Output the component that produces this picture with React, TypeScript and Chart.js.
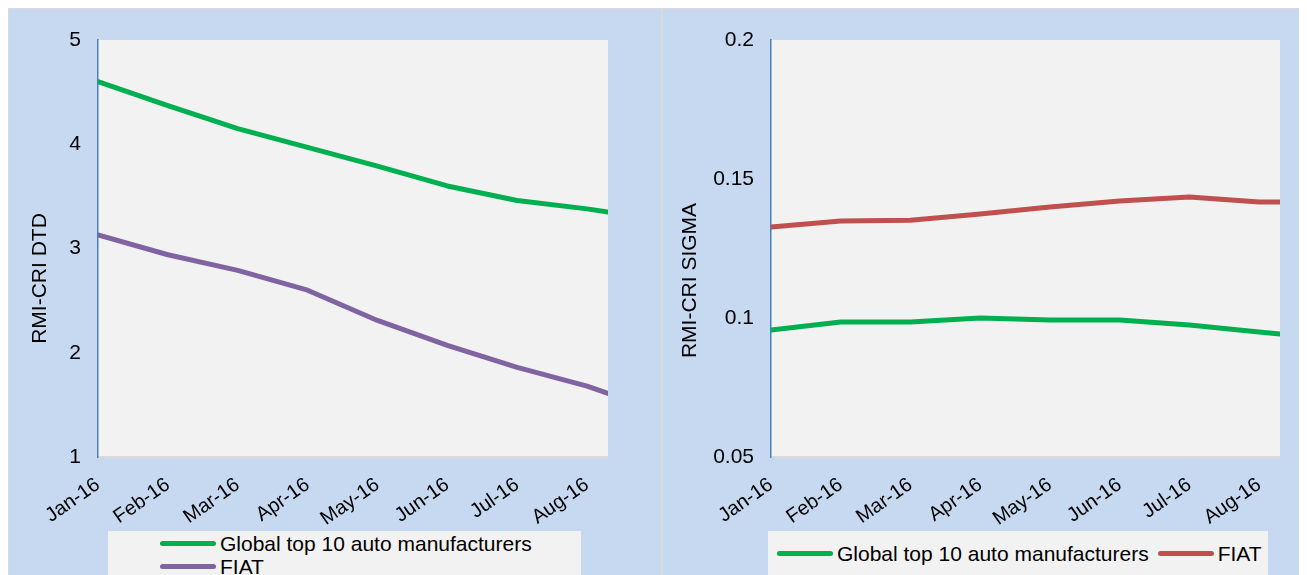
import React, { useEffect, useRef } from "react";
import { Chart, registerables } from "chart.js";

Chart.register(...registerables);

// ---- data ----
const monthLabels = ["Jan-16", "Feb-16", "Mar-16", "Apr-16", "May-16", "Jun-16", "Jul-16", "Aug-16"];
// time position of each observation, in months after Jan-16 (last one is mid-Aug)
const xPositions = [0, 1, 2, 3, 4, 5, 6, 7, 7.3];
const xMax = 7.3;
const seriesNames = ["Global top 10 auto manufacturers", "FIAT"];

const dtdGlobal = [4.6, 4.37, 4.15, 3.97, 3.79, 3.6, 3.46, 3.38, 3.35];
const dtdFiat = [3.13, 2.94, 2.79, 2.6, 2.31, 2.07, 1.86, 1.68, 1.61];
const sigmaGlobal = [0.0957, 0.0986, 0.0986, 0.1, 0.0993, 0.0993, 0.0975, 0.095, 0.0942];
const sigmaFiat = [0.1327, 0.1349, 0.1352, 0.1374, 0.1399, 0.1421, 0.1435, 0.1417, 0.1417];

const dtdTicks = [1, 2, 3, 4, 5];
const sigmaTicks = [0.05, 0.1, 0.15, 0.2];

const GREEN = "#00b050";
const PURPLE = "#8064a2";
const RED = "#c0504d";
const PANEL_BG = "#c6d9f0";
const PLOT_BG = "#f2f2f2";
const FONT = "'Liberation Sans', Arial, sans-serif";

const CANVAS_H = 535;
const AREA_BOTTOM = 448;

type PanelSpec = {
  series: number[][];
  colors: string[];
  yTicks: number[];
  yTitle: string;
  yWidth: number;
  padRight: number;
  titleX: number;
  titleShift: number;
};

const plotBg = {
  id: "plotBg",
  beforeDraw(chart: any) {
    const { ctx, chartArea: a } = chart;
    ctx.save();
    ctx.fillStyle = PLOT_BG;
    ctx.fillRect(a.left, a.top, a.right - a.left, a.bottom - a.top);
    ctx.restore();
  },
};

function makeConfig(spec: PanelSpec): any {
  const yTitlePlugin = {
    id: "yTitle",
    afterDraw(chart: any) {
      const { ctx, chartArea: a } = chart;
      ctx.save();
      ctx.translate(spec.titleX, (a.top + a.bottom) / 2 + spec.titleShift);
      ctx.rotate(-Math.PI / 2);
      ctx.font = `21px ${FONT}`;
      ctx.fillStyle = "#000";
      ctx.textAlign = "center";
      ctx.textBaseline = "middle";
      ctx.fillText(spec.yTitle, 0, 0);
      ctx.restore();
    },
  };
  return {
    type: "line",
    data: {
      datasets: spec.series.map((vals, i) => ({
        label: seriesNames[i],
        data: xPositions.map((x, j) => ({ x, y: vals[j] })),
        borderColor: spec.colors[i],
        backgroundColor: spec.colors[i],
        borderWidth: 5,
        pointRadius: 0,
        tension: 0,
        borderCapStyle: "round",
        borderJoinStyle: "round",
        fill: false,
      })),
    },
    options: {
      animation: false,
      responsive: false,
      devicePixelRatio: 1,
      layout: { padding: { top: 31, right: spec.padRight, bottom: 0, left: 0 } },
      plugins: { legend: { display: false }, tooltip: { enabled: false } },
      scales: {
        x: {
          type: "linear",
          min: 0,
          max: xMax,
          afterBuildTicks: (s: any) => {
            s.ticks = monthLabels.map((_, i) => ({ value: i }));
          },
          afterFit: (s: any) => {
            s.height = CANVAS_H - AREA_BOTTOM;
          },
          grid: { display: false, drawTicks: false },
          border: { display: true, color: "#d9d9d9", width: 2 },
          ticks: {
            autoSkip: false,
            minRotation: 35,
            maxRotation: 35,
            padding: 16,
            color: "#000",
            font: { family: FONT, size: 20 },
            callback: (v: number) => monthLabels[v] ?? "",
          },
        },
        y: {
          type: "linear",
          min: spec.yTicks[0],
          max: spec.yTicks[spec.yTicks.length - 1],
          afterBuildTicks: (s: any) => {
            s.ticks = spec.yTicks.map((v) => ({ value: v }));
          },
          afterFit: (s: any) => {
            s.width = spec.yWidth;
          },
          grid: { display: false, drawTicks: false },
          border: { display: true, color: "#4a7ebb", width: 1.5 },
          ticks: {
            padding: 17,
            color: "#000",
            font: { family: FONT, size: 21 },
            callback: (v: number) => String(v),
          },
        },
      },
    },
    plugins: [plotBg, yTitlePlugin],
  };
}

function ChartCanvas({ spec, width, height, style }: { spec: PanelSpec; width: number; height: number; style: React.CSSProperties }) {
  const ref = useRef<HTMLCanvasElement | null>(null);
  useEffect(() => {
    if (!ref.current) return;
    const chart = new Chart(ref.current, makeConfig(spec));
    return () => chart.destroy();
  }, [spec]);
  return <canvas ref={ref} width={width} height={height} style={{ position: "absolute", width, height, ...style }} />;
}

function LegendItem({ color, label, gapAfter }: { color: string; label: string; gapAfter?: number }) {
  return (
    <div style={{ display: "flex", alignItems: "center", height: 23, marginRight: gapAfter ?? 0 }}>
      <div style={{ width: 56, height: 5, borderRadius: 3, background: color, marginRight: 4 }} />
      <span style={{ font: `21px ${FONT}`, color: "#000", whiteSpace: "nowrap", lineHeight: "23px" }}>{label}</span>
    </div>
  );
}

const leftSpec: PanelSpec = {
  series: [dtdGlobal, dtdFiat],
  colors: [GREEN, PURPLE],
  yTicks: dtdTicks,
  yTitle: "RMI-CRI DTD",
  yWidth: 89,
  padRight: 53,
  titleX: 31,
  titleShift: 30,
};

const rightSpec: PanelSpec = {
  series: [sigmaGlobal, sigmaFiat],
  colors: [GREEN, RED],
  yTicks: sigmaTicks,
  yTitle: "RMI-CRI SIGMA",
  yWidth: 107,
  padRight: 27,
  titleX: 26,
  titleShift: 32,
};

export default function App() {
  return (
    <div
      style={{
        position: "relative",
        marginLeft: -1,
        marginTop: -1,
        width: 1300,
        height: 568,
        borderTop: "2px solid #d9d9d9",
        borderLeft: "2px solid #d9d9d9",
        background: PANEL_BG,
        overflow: "hidden",
      }}
    >
      <ChartCanvas spec={leftSpec} width={652} height={CANVAS_H} style={{ left: 0, top: 0 }} />
      <div style={{ position: "absolute", left: 652, top: 0, width: 2, height: 568, background: "#d9d9d9" }} />
      <ChartCanvas spec={rightSpec} width={643} height={CANVAS_H} style={{ left: 655, top: 0 }} />

      <div
        style={{
          position: "absolute",
          left: 99,
          top: 522,
          width: 473,
          height: 60,
          background: PLOT_BG,
          paddingLeft: 52,
          paddingTop: 1,
          boxSizing: "border-box",
        }}
      >
        <LegendItem color={GREEN} label={seriesNames[0]} />
        <LegendItem color={PURPLE} label={seriesNames[1]} />
      </div>

      <div
        style={{
          position: "absolute",
          left: 759,
          top: 522,
          width: 500,
          height: 60,
          background: PLOT_BG,
          paddingLeft: 9,
          paddingTop: 11,
          boxSizing: "border-box",
          display: "flex",
          alignItems: "flex-start",
        }}
      >
        <LegendItem color={GREEN} label={seriesNames[0]} gapAfter={9} />
        <LegendItem color={RED} label={seriesNames[1]} />
      </div>
    </div>
  );
}
